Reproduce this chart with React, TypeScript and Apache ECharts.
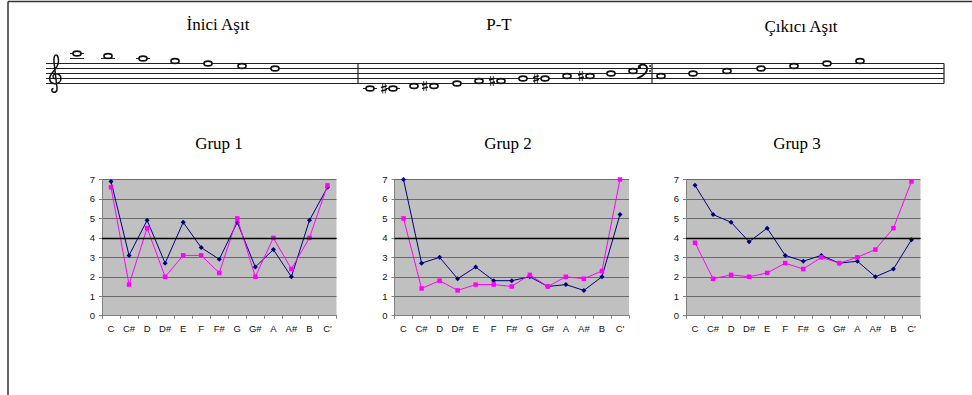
import React, { useEffect, useRef } from "react";
import * as echarts from "echarts";

// ---------- chart data ----------
const categories = ["C", "C#", "D", "D#", "E", "F", "F#", "G", "G#", "A", "A#", "B", "C'"];
const groupTitles = ["Grup 1", "Grup 2", "Grup 3"];
const group1Blue = [6.9, 3.1, 4.9, 2.7, 4.8, 3.5, 2.9, 4.8, 2.5, 3.4, 2.0, 4.9, 6.6];
const group1Pink = [6.6, 1.6, 4.5, 2.0, 3.1, 3.1, 2.2, 5.0, 2.0, 4.0, 2.4, 4.0, 6.7];
const group2Blue = [7.0, 2.7, 3.0, 1.9, 2.5, 1.8, 1.8, 2.0, 1.5, 1.6, 1.3, 2.0, 5.2];
const group2Pink = [5.0, 1.4, 1.8, 1.3, 1.6, 1.6, 1.5, 2.1, 1.5, 2.0, 1.9, 2.3, 7.0];
const group3Blue = [6.7, 5.2, 4.8, 3.8, 4.5, 3.1, 2.8, 3.1, 2.7, 2.8, 2.0, 2.4, 3.9];
const group3Pink = [3.75, 1.9, 2.1, 2.0, 2.2, 2.7, 2.4, 3.0, 2.7, 3.0, 3.4, 4.5, 6.9];

// ---------- music staff content ----------
const sectionTitles = ["İnici Aşıt", "P-T", "Çıkıcı Aşıt"];
// staff steps above the bottom line (one step = half a space)
const section1Steps = [12, 11, 10, 9, 8, 7, 6];
const section2Steps = [-2, -2, -1, -1, 0, 1, 1, 2, 2, 3, 3, 4, 5];
const section2Sharps = [false, true, false, true, false, false, true, false, true, false, true, false, false];
const section3Steps = [3, 4, 5, 6, 7, 8, 9];

const TREBLE_D =
  "M56 79 C53 79 52 76 54 74.5 C57 72.5 61 74.5 61 78.5 C61 82.5 57 84.5 53.5 83.5 " +
  "C49.5 82.5 48.5 78 51 74.5 C54 70.5 58.5 67 58.5 61 C58.5 57 57 55 56 55 " +
  "C54.5 55 53.5 58 54 62 L57 88 C57.5 91.5 55 93 53 92 C51 91 51.5 88.5 53.5 88.5";
const BASS_D = "M638.5 67.5 C639 64 646 63.5 647 67.5 C648 72 643 76 637 78.5";

echarts.graphic.registerShape("trebleClef", echarts.graphic.extendPath(TREBLE_D, {}));
echarts.graphic.registerShape("bassClef", echarts.graphic.extendPath(BASS_D, {}));

export default function App() {
  const ref = useRef<HTMLDivElement>(null);

  useEffect(() => {
    document.body.style.margin = "0";
    if (!ref.current) return;
    const chart = echarts.init(ref.current, undefined, { renderer: "svg" });

    const staffTop = 63.5;
    const staffBottom = 83.5;
    const stepPx = 2.5;
    const staffLeft = 46;
    const staffRight = 944;

    const g: any[] = [];
    // frame
    g.push({ type: "line", shape: { x1: 8, y1: 1.5, x2: 972, y2: 1.5 }, style: { stroke: "#333", lineWidth: 1.5 } });
    g.push({ type: "line", shape: { x1: 8, y1: 1.5, x2: 8, y2: 395 }, style: { stroke: "#333", lineWidth: 1.5 } });

    // section titles
    const secX = [218, 499, 801];
    sectionTitles.forEach((t, i) => {
      g.push({
        type: "text",
        x: secX[i],
        y: i === 2 ? 26 : 24,
        style: { text: t, font: '17px "Liberation Serif", serif', fill: "#000", textAlign: "center", textVerticalAlign: "middle" },
      });
    });

    // staff lines
    for (let k = 0; k < 5; k++) {
      const y = staffTop + k * 5;
      g.push({ type: "line", shape: { x1: staffLeft, y1: y, x2: staffRight, y2: y }, style: { stroke: "#222", lineWidth: 1 } });
    }
    [358, 652, 944].forEach((x) => {
      g.push({ type: "line", shape: { x1: x, y1: staffTop, x2: x, y2: staffBottom }, style: { stroke: "#222", lineWidth: 1.2 } });
    });

    // clefs
    g.push({ type: "trebleClef", x: 0, y: 0, style: { fill: "none", stroke: "#111", lineWidth: 1.5 } });
    g.push({ type: "bassClef", x: 0, y: 0, style: { fill: "none", stroke: "#111", lineWidth: 1.8 } });
    g.push({ type: "circle", shape: { cx: 639.5, cy: 67.5, r: 1.6 }, style: { fill: "#111" } });
    g.push({ type: "circle", shape: { cx: 650, cy: 66, r: 0.9 }, style: { fill: "#111" } });
    g.push({ type: "circle", shape: { cx: 650, cy: 71, r: 0.9 }, style: { fill: "#111" } });

    const addSharp = (sx: number, cy: number) => {
      [-1.3, 1.3].forEach((dx) => {
        g.push({ type: "line", shape: { x1: sx + dx, y1: cy - 5, x2: sx + dx, y2: cy + 5 }, style: { stroke: "#111", lineWidth: 0.8 } });
      });
      [-1.8, 1.8].forEach((dy) => {
        g.push({ type: "line", shape: { x1: sx - 3, y1: cy + dy + 0.8, x2: sx + 3, y2: cy + dy - 0.8 }, style: { stroke: "#111", lineWidth: 1.4 } });
      });
    };

    const addNote = (cx: number, step: number, sharp: boolean) => {
      const cy = staffBottom - step * stepPx;
      if (step >= 10) {
        for (let s = 10; s <= step; s += 2) {
          const ly = staffBottom - s * stepPx;
          g.push({ type: "line", shape: { x1: cx - 7, y1: ly, x2: cx + 7, y2: ly }, style: { stroke: "#222", lineWidth: 1 } });
        }
      }
      if (step <= -2) {
        for (let s = -2; s >= step; s -= 2) {
          const ly = staffBottom - s * stepPx;
          g.push({ type: "line", shape: { x1: cx - 7, y1: ly, x2: cx + 7, y2: ly }, style: { stroke: "#222", lineWidth: 1 } });
        }
      }
      g.push({ type: "ellipse", shape: { cx, cy, rx: 4, ry: 2.4 }, style: { fill: "#fff", stroke: "#111", lineWidth: 1.7 } });
      if (sharp) addSharp(cx - 9, cy);
    };

    const s1x = [77, 108, 143, 175, 208, 242, 275];
    const s2x = [370, 393, 414, 434, 457, 479, 501, 523, 545, 567, 590, 611, 633];
    const s3x = [661, 693, 727, 761, 794, 827, 860];
    section1Steps.forEach((s, i) => addNote(s1x[i], s, false));
    section2Steps.forEach((s, i) => addNote(s2x[i], s, section2Sharps[i]));
    section3Steps.forEach((s, i) => addNote(s3x[i], s, false));

    // group titles
    const titleX = [219, 508, 797];
    groupTitles.forEach((t, i) => {
      g.push({
        type: "text",
        x: titleX[i],
        y: 143,
        style: { text: t, font: '17px "Liberation Serif", serif', fill: "#000", textAlign: "center", textVerticalAlign: "middle" },
      });
    });

    const gridLefts = [102, 394.5, 686];
    const grids = gridLefts.map((l) => ({
      left: l,
      top: 179.5,
      width: 234.5,
      height: 136.2,
      show: true,
      backgroundColor: "#c0c0c0",
      borderWidth: 0,
    }));

    const axisFont = { fontSize: 9.5, color: "#111", fontFamily: '"Liberation Sans", Arial, sans-serif' };
    const xAxes = grids.map((_, i) => ({
      type: "category",
      gridIndex: i,
      data: categories,
      boundaryGap: true,
      axisLine: { show: true, lineStyle: { color: "#808080", width: 1 } },
      axisTick: { show: true, length: 3, lineStyle: { color: "#808080" } },
      axisLabel: { ...axisFont, margin: 8, interval: 0 },
      splitLine: { show: false },
    }));
    const yAxes = grids.map((_, i) => ({
      type: "value",
      gridIndex: i,
      min: 0,
      max: 7,
      interval: 1,
      axisLine: { show: true, lineStyle: { color: "#808080", width: 1 } },
      axisTick: { show: true, length: 3, lineStyle: { color: "#808080" } },
      axisLabel: { ...axisFont, margin: 7 },
      splitLine: { show: true, lineStyle: { color: "#6a6a6a", width: 1 } },
    }));

    const blues = [group1Blue, group2Blue, group3Blue];
    const pinks = [group1Pink, group2Pink, group3Pink];
    const series: any[] = [];
    for (let i = 0; i < 3; i++) {
      series.push({
        type: "line",
        xAxisIndex: i,
        yAxisIndex: i,
        data: blues[i],
        symbol: "diamond",
        symbolSize: 5,
        showSymbol: true,
        itemStyle: { color: "#000080" },
        lineStyle: { color: "#000080", width: 1 },
        markLine: {
          silent: true,
          symbol: "none",
          label: { show: false },
          lineStyle: { color: "#000", width: 1.3, type: "solid" },
          data: [{ yAxis: 4 }],
        },
        z: 3,
      });
      series.push({
        type: "line",
        xAxisIndex: i,
        yAxisIndex: i,
        data: pinks[i],
        symbol: "rect",
        symbolSize: 4.5,
        showSymbol: true,
        itemStyle: { color: "#ff00ff" },
        lineStyle: { color: "#ff00ff", width: 1 },
        z: 4,
      });
    }

    chart.setOption({
      animation: false,
      backgroundColor: "#fff",
      grid: grids,
      xAxis: xAxes,
      yAxis: yAxes,
      series,
      graphic: g,
    });

    return () => chart.dispose();
  }, []);

  return <div ref={ref} style={{ width: 972, height: 395 }} />;
}
